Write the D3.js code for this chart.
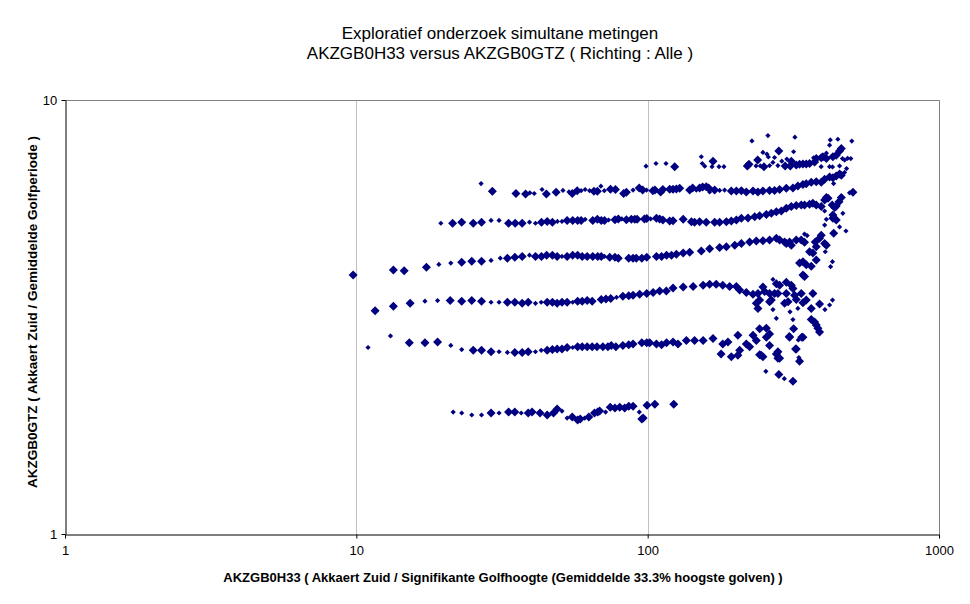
<!DOCTYPE html>
<html><head><meta charset="utf-8">
<script src="https://cdn.jsdelivr.net/npm/d3@7"></script>
<style>
body{margin:0;background:#fff;}
text{font-family:"Liberation Sans",Arial,sans-serif;fill:#000;}
</style></head>
<body><svg id="c" width="970" height="604"></svg>
<script>
const titleLines = ["Exploratief onderzoek simultane metingen", "AKZGB0H33 versus AKZGB0GTZ ( Richting : Alle )"];
const xTitle = "AKZGB0H33 ( Akkaert Zuid / Signifikante Golfhoogte (Gemiddelde 33.3% hoogste golven) )";
const yTitle = "AKZGB0GTZ ( Akkaert Zuid / Gemiddelde Golfperiode )";
const xTicks = [1, 10, 100, 1000];
const yTicks = [1, 10];
const xGrid = [10, 100];

// large markers (x = H33, y = GTZ)
const groot = [
// ~6.2 s
[29.3,6.16],[35.3,6.09],[38.1,6.07],[44.9,6.07],[48.5,6.13],[55.1,6.09],[57.3,6.18],[65.4,6.16],[67.2,6.16],[74.5,6.23],[77.5,6.22],[82.7,6.09],[84.5,6.13],[93.5,6.27],[96.1,6.20],[104.2,6.18],[105.9,6.20],[110.8,6.14],[112.8,6.22],[119,6.23],[122.2,6.23],[125.5,6.24],[128.8,6.26],[139.4,6.20],[142.7,6.27],[150.8,6.27],[154.4,6.30],[158.9,6.31],[161.9,6.27],[169.8,6.20],[193.7,6.17],[201.6,6.17],[209.7,6.18],[218.1,6.14],[229.9,6.17],[239.1,6.14],[248.7,6.17],[262.1,6.19],[272.6,6.19],[283.7,6.22],[299.1,6.26],[315.2,6.27],[327.8,6.34],[341.1,6.39],[350.3,6.41],[364.4,6.46],[379.1,6.48],[394.3,6.46],[405,6.57],[421.1,6.65],[432.3,6.62],[443.9,6.68],[455.7,6.75],[462,6.71],[506.6,6.13],
[123.8,7.02],[167.6,7.23],[219.8,7.05],[222.7,7.11],[238.6,7.27],[250.7,7.02],[282,7.63],[296.3,7.05],[311.2,7.23],[308.7,7.05],[323.6,7.08],[332.2,7.11],[341.1,7.12],[350.3,7.12],[359.5,7.14],[374.1,7.20],[379.1,7.33],[394.3,7.36],[399.5,7.40],[410.6,7.33],[432.3,7.40],[443.9,7.46],[455.7,7.63],[462,7.73],
// ~5.2 s
[21.4,5.20],[23.0,5.23],[25.2,5.20],[26.9,5.23],[33.3,5.20],[35.1,5.20],[37.1,5.20],[43.2,5.23],[45.2,5.25],[47.1,5.23],[52.9,5.28],[55.3,5.28],[57.5,5.28],[59.1,5.28],[64.8,5.28],[67.2,5.31],[69.3,5.28],[71.1,5.28],[77.2,5.30],[79.3,5.32],[84.5,5.30],[87.9,5.31],[90.3,5.31],[92.0,5.31],[97.5,5.32],[99.3,5.33],[107.2,5.34],[109.9,5.32],[112.8,5.29],[119,5.26],[122.2,5.27],[132.4,5.31],[141.3,5.24],[144.9,5.23],[150.8,5.24],[158.9,5.23],[169.8,5.23],[176.6,5.23],[186.3,5.24],[193.7,5.26],[201.6,5.29],[209.7,5.34],[221,5.35],[233,5.38],[242.3,5.41],[255.5,5.45],[265.7,5.48],[276.5,5.53],[287.6,5.55],[299.1,5.63],[311.2,5.68],[323.6,5.71],[336.7,5.73],[345.5,5.73],[359.5,5.75],[369.1,5.78],[379.1,5.73],[394.3,5.68],[405,5.88],[410.6,5.96],[416.2,5.94],[430,5.73],[438.6,5.65],[462,5.96],[453.6,5.83],[443.9,5.70],[432.3,5.43],[432.3,5.34],[443.9,5.29],[435,4.93],
// ~4.4 s
[9.75,3.95],[13.4,4.06],[14.6,4.04],[17.4,4.12],[23.0,4.23],[24.9,4.25],[26.9,4.25],[33.0,4.32],[35.0,4.34],[37.1,4.36],[41.2,4.36],[43.2,4.36],[45.0,4.39],[47.1,4.39],[48.9,4.36],[52.9,4.36],[55.3,4.39],[57.5,4.39],[59.6,4.36],[62.0,4.36],[64.8,4.36],[67.4,4.36],[69.3,4.36],[74.1,4.34],[77.2,4.34],[79.3,4.32],[86.1,4.32],[89.1,4.32],[91.4,4.32],[95.5,4.32],[99.3,4.34],[107.2,4.36],[111.6,4.36],[116.1,4.39],[120.7,4.39],[125.5,4.41],[132.4,4.44],[139.4,4.46],[152.8,4.49],[163.2,4.54],[176.6,4.57],[186.3,4.59],[199,4.63],[209.7,4.67],[223.9,4.71],[236,4.73],[248.7,4.74],[262.1,4.76],[276.5,4.80],[283.7,4.76],[295,4.71],[307,4.71],[323.6,4.76],[336.7,4.76],[345.5,4.70],[359.5,4.47],[369.1,4.44],[376.1,4.71],[394.3,4.88],[405,4.67],[410.6,4.63],[379.1,4.28],[341.1,4.24],[332.2,4.21],[350.3,4.17],[364.4,4.14],[379.1,4.59],[389,4.80],[311.2,4.63],[299.1,4.67],[341.1,3.95],[345.5,3.92],
// ~3.5 s
[11.6,3.27],[13.4,3.35],[15.3,3.40],[21.0,3.45],[23.0,3.44],[24.9,3.45],[26.9,3.44],[33.0,3.42],[35.0,3.42],[37.1,3.40],[38.9,3.42],[45.2,3.42],[47.1,3.42],[48.9,3.40],[50.8,3.42],[52.9,3.42],[57.5,3.44],[59.6,3.44],[62.0,3.45],[64.5,3.44],[69.3,3.47],[71.9,3.48],[74.7,3.49],[82.2,3.53],[86.1,3.54],[89.1,3.55],[93.9,3.57],[99.3,3.58],[104.4,3.60],[109.9,3.63],[115.9,3.63],[122.2,3.69],[132.4,3.71],[143.2,3.72],[155,3.74],[163.2,3.76],[171.9,3.76],[181,3.74],[191.1,3.72],[201.6,3.72],[206.9,3.65],[218.1,3.60],[229.9,3.57],[239.1,3.58],[248.7,3.71],[252,3.62],[262.1,3.58],[272.6,3.58],[276.5,3.77],[283.7,3.74],[280,3.58],[299.1,3.80],[311.2,3.74],[315.2,3.68],[299.1,3.58],[319.4,3.55],[336.7,3.58],[323.6,3.47],[350.3,3.46],[341.1,3.41],[236,3.40],[242.3,3.46],[239.1,3.31],[262.1,3.43],[265.7,3.46],[295,3.40],[303.3,3.43],[364.4,3.31],[389,3.39],[369.1,3.58],
[364.4,3.12],[374.1,3.08],[379.1,3.03],[389,2.92],[383.9,2.98],[316.9,2.97],[306.3,2.85],[338.2,2.84],[321.8,2.67],[332.2,2.50],[280,2.63],[283.7,2.54],[242.3,2.59],[248.7,2.56],[282,2.33],[315.2,2.25],
// ~2.7 s
[15.2,2.76],[17.2,2.76],[19.0,2.77],[25.2,2.65],[26.9,2.65],[29.0,2.63],[35.0,2.62],[37.1,2.62],[38.9,2.63],[45.2,2.65],[47.1,2.66],[48.9,2.67],[50.8,2.67],[52.9,2.69],[57.5,2.70],[59.6,2.70],[62.0,2.70],[64.5,2.70],[67.0,2.70],[70.2,2.70],[73.0,2.70],[75.0,2.72],[77.8,2.70],[82.2,2.72],[86.1,2.73],[89.1,2.74],[95.5,2.76],[99.3,2.76],[101.6,2.76],[107.2,2.74],[111.6,2.73],[116.1,2.76],[122.2,2.77],[127.1,2.74],[135.8,2.79],[144.9,2.79],[155,2.79],[167.6,2.82],[181,2.74],[188.6,2.77],[204,2.87],[229.9,2.87],[242.3,2.97],[255.5,2.98],[262.1,2.89],[178.6,2.60],[193.7,2.56],[206.9,2.65],[204,2.58],[218.1,2.74],[223.9,2.70],[236,2.79],[245.3,2.58],[255.5,2.84],[262.1,2.72],[276.5,2.60],[280,2.54],[307,2.84],[323.6,2.67],[341.1,2.84],
// ~1.9 s
[29.0,1.90],[33.3,1.91],[35.0,1.91],[38.9,1.90],[40.1,1.91],[42.7,1.90],[45.2,1.88],[47.5,1.90],[48.9,1.94],[55.1,1.86],[57.5,1.83],[58.7,1.84],[62.8,1.86],[65.7,1.90],[67.4,1.91],[68.4,1.92],[74.4,1.96],[77.2,1.95],[80.2,1.96],[83.4,1.95],[86.1,1.97],[89.1,1.97],[96.5,1.85],[95.5,1.84],[99.5,1.98],[105.8,1.99],[122.9,1.99]
];

// small markers
const klein = [
[26.8,6.42],[39.4,6.11],[40.8,6.09],[43.4,6.22],[51.2,6.19],[53.7,6.14],[59.1,6.18],[61.0,6.22],[63.2,6.18],[69.1,6.33],[71.0,6.18],[89.1,6.20],[99.1,6.20],[146.9,6.20],[163.2,6.14],[176.6,6.19],[183.7,6.20],[434.7,6.42],[493.2,6.11],[474,6.81],[481.6,6.95],
[98.7,7.04],[106.8,7.14],[115.6,7.14],[152.8,7.40],[154,7.14],[157,7.04],[166.3,7.02],[175.7,7.02],[182.7,7.02],[228,8.05],[235.5,7.05],[243.6,7.05],[248.7,7.57],[256.7,7.50],[259.5,7.39],[258.7,8.28],[262.1,7.06],[269.1,7.18],[272.6,7.37],[279.9,7.06],[288.7,7.23],[300.5,7.31],[316.9,7.60],[320.2,8.21],[371.2,7.36],[410.6,7.54],[421.1,7.87],[423.5,8.09],[449.6,8.12],[502,8.04],[498,7.33],[485.6,7.34],[474.5,7.27],[431,7.01],[455.7,7.05],[466.3,7.33],[394,7.02],[421,7.02],
[19.5,5.20],[29.0,5.28],[30.9,5.28],[39.3,5.23],[41.2,5.20],[49.0,5.25],[50.8,5.25],[61.0,5.31],[73.4,5.29],[81.5,5.32],[102.4,5.32],[405,5.55],[405,5.15],[455.7,5.10],[479.3,4.99],[467.6,5.48],[410.6,5.31],[441.5,5.29],
[19.2,4.18],[21.1,4.21],[29.0,4.27],[31.2,4.32],[39.3,4.39],[50.8,4.36],[71.1,4.36],[345.5,4.91],[352.7,4.87],[407,4.47],[430.8,4.24],[424.5,4.13],
[17.2,3.44],[19.0,3.45],[29.0,3.42],[30.9,3.42],[41.2,3.40],[43.1,3.42],[55.3,3.42],[78.2,3.51],[269.2,3.86],[421.1,3.37],[406,3.29],[269.2,3.29],[308,3.25],[327.8,3.31],[276.5,3.14],[315.2,3.12],[431,3.46],[330.4,2.55],[254.5,2.37],[294.5,2.28],
[10.97,2.69],[13.1,2.86],[21.1,2.72],[23.0,2.66],[30.9,2.63],[33.0,2.62],[41.2,2.63],[43.1,2.65],[55.3,2.69],[329,2.80],
[21.5,1.91],[23.0,1.90],[24.9,1.88],[26.9,1.88],[30.9,1.90],[36.8,1.90],[50.8,1.92],[52.9,1.85],[60.8,1.85],[71.7,1.91],[93.6,1.91]
];

const svg = d3.select("#c");
const L = 65, R = 939, T = 100, B = 534;
const x = d3.scaleLog().domain([1, 1000]).range([L, R]);
const y = d3.scaleLog().domain([1, 10]).range([B, T]);
const navy = "#000080";

// gridlines
svg.append("g").selectAll("line").data(xGrid).join("line")
  .attr("x1", d => Math.round(x(d)) + 0.5).attr("x2", d => Math.round(x(d)) + 0.5)
  .attr("y1", T).attr("y2", B).attr("stroke", "#c0c0c0").attr("stroke-width", 1);
// frame top/right
svg.append("path").attr("d", `M${L},${T + 0.5}H${R + 0.5}V${B}`)
  .attr("fill", "none").attr("stroke", "#808080").attr("stroke-width", 1);

// points
const bigPath = "M0,-4.5L4.5,0L0,4.5L-4.5,0Z";
const smallPath = "M0,-2.6L2.6,0L0,2.6L-2.6,0Z";
svg.append("g").selectAll("path").data(klein).join("path")
  .attr("d", smallPath).attr("fill", navy)
  .attr("transform", d => `translate(${x(d[0])},${y(d[1])})`);
svg.append("g").selectAll("path").data(groot).join("path")
  .attr("d", bigPath).attr("fill", navy)
  .attr("transform", d => `translate(${x(d[0])},${y(d[1])})`);

// axes
const xa = svg.append("g").attr("transform", `translate(0,${B + 0.5})`)
  .call(d3.axisBottom(x).tickValues(xTicks).tickFormat(d3.format("d")).tickSize(4).tickSizeOuter(0));
const ya = svg.append("g").attr("transform", `translate(${L + 0.5},0)`)
  .call(d3.axisLeft(y).tickValues(yTicks).tickFormat(d3.format("d")).tickSize(4).tickSizeOuter(0));
[xa, ya].forEach(a => {
  a.select(".domain").attr("stroke", "#000");
  a.selectAll(".tick line").attr("stroke", "#000");
  a.selectAll(".tick text").style("font-family", '"Liberation Sans",Arial,sans-serif').style("font-size", "13px").attr("fill", "#000");
});
xa.selectAll(".tick text").attr("dy", "1.05em");
ya.selectAll(".tick text").attr("dx", "-0.1em");

// titles
svg.append("g").selectAll("text").data(titleLines).join("text")
  .attr("x", 500).attr("y", (d, i) => 39 + i * 20).attr("text-anchor", "middle")
  .style("font-size", "17px").text(d => d);
svg.append("text").attr("x", 503).attr("y", 582).attr("text-anchor", "middle")
  .style("font-size", "13px").style("font-weight", "bold").text(xTitle);
svg.append("text").attr("transform", "translate(37,312) rotate(-90)").attr("text-anchor", "middle")
  .style("font-size", "13.5px").style("font-weight", "bold").text(yTitle);
</script></body></html>
